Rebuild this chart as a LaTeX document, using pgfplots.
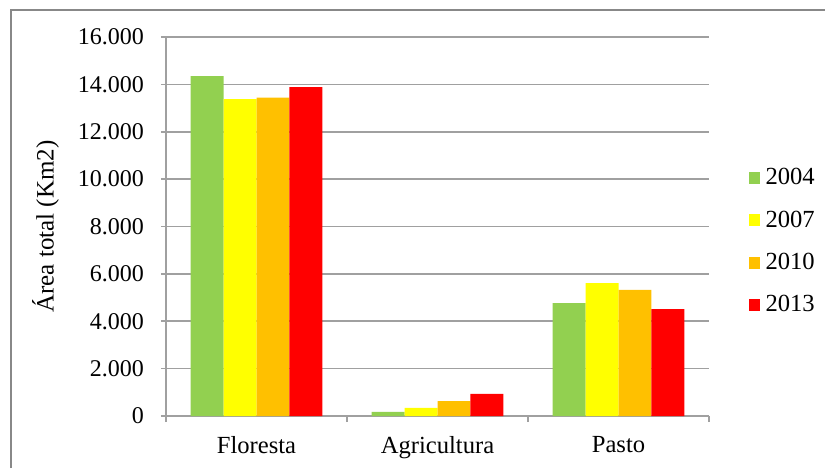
\documentclass[border=0pt]{standalone}
\usepackage{pgfplots}
\pgfplotsset{compat=1.18}
\usepackage{fontspec}
\setmainfont{Liberation Serif}
\definecolor{cgreen}{HTML}{92D050}
\definecolor{cyellow}{HTML}{FFFF00}
\definecolor{corange}{HTML}{FFC000}
\definecolor{cred}{HTML}{FF0000}
\definecolor{gridgray}{HTML}{A0A0A0}
\begin{document}
\begin{tikzpicture}[x=0.5pt,y=0.5pt]
\useasboundingbox (0,0) rectangle (825,468);
\draw[color=gridgray!85!black, line width=1pt] (11,0) -- (11,458) -- (825,458);
\begin{axis}[
  at={(83pt,26pt)}, anchor=south west,
  scale only axis,
  width=271.5pt, height=189.5pt,
  ybar=0pt, bar width=0.182,
  xmin=-0.5, xmax=2.5,
  ymin=0, ymax=16000,
  ytick={0,2000,...,16000},
  xtick={0,1,2},
  xticklabels={Floresta,Agricultura,Pasto},
  minor xtick={-0.5,0.5,1.5,2.5},
  major x tick style={draw=none},
  minor x tick style={draw=gridgray, line width=0.8pt},
  minor tick length=3pt,
  major tick length=2.5pt,
  tick align=outside,
  ytick style={draw=gridgray, line width=0.8pt},
  axis x line*=bottom, axis y line*=left,
  axis line style={draw=gridgray, line width=0.8pt, -},
  ymajorgrids, grid style={draw=gridgray, line width=0.8pt},
  /pgf/number format/.cd, use comma, 1000 sep={.}, assume math mode=true,
  /pgfplots/.cd,
  scaled y ticks=false,
  yticklabel style={font=\fontsize{12}{14}\selectfont, xshift=-5pt},
  xticklabel style={font=\fontsize{12.3}{14}\selectfont, yshift=-4pt},
  ylabel={Área total (Km2)},
  ylabel style={font=\fontsize{12.5}{14}\selectfont, at={(axis description cs:-0.222,0.5)}, anchor=center},
  legend style={at={(1.072,0.46)}, anchor=west, draw=none, fill=none,
    font=\fontsize{12.3}{14}\selectfont, row sep=9.5pt, inner sep=0pt,
    nodes={inner sep=1pt},
    /tikz/every odd column/.append style={column sep=2pt}},
  legend cell align=left,
  legend image code/.code={\fill[#1] (0pt,-3pt) rectangle (5.5pt,3pt);},
]
\addplot[fill=cgreen, draw=none] coordinates {(0,14350) (1,170) (2,4770)};
\addplot[fill=cyellow, draw=none] coordinates {(0,13380) (1,340) (2,5610)};
\addplot[fill=corange, draw=none] coordinates {(0,13440) (1,630) (2,5320)};
\addplot[fill=cred, draw=none] coordinates {(0,13880) (1,930) (2,4510)};
\legend{2004,2007,2010,2013}
\end{axis}
\end{tikzpicture}
\end{document}
